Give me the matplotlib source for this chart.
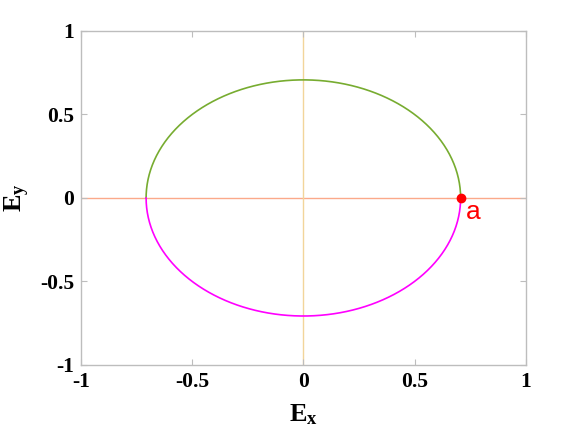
import numpy as np
import matplotlib
matplotlib.use("Agg")
import matplotlib.pyplot as plt

plt.rcParams["mathtext.fontset"] = "custom"
plt.rcParams["mathtext.rm"] = "Liberation Serif"
plt.rcParams["mathtext.bf"] = "Liberation Serif:bold"
plt.rcParams["mathtext.it"] = "Liberation Serif:italic"

# Polarization ellipse parameters
ex_amplitude = 0.707
ey_amplitude = 0.707
phase_upper = np.linspace(0, np.pi, 300)
phase_lower = np.linspace(np.pi, 2 * np.pi, 300)
point_a = (0.707, 0.0)
point_label = "a"
xticks = [-1, -0.5, 0, 0.5, 1]
yticks = [-1, -0.5, 0, 0.5, 1]
xtick_labels = ["-1", "-0.5", "0", "0.5", "1"]
ytick_labels = ["-1", "-0.5", "0", "0.5", "1"]

fig = plt.figure(figsize=(5.74, 4.36), dpi=100)
ax = fig.add_axes([0.141, 0.163, 0.775, 0.766])

ax.axhline(0, color="#FBA98A", lw=1.0, zorder=1)
ax.axvline(0, color="#F2D59A", lw=1.0, zorder=1)

ax.plot(ex_amplitude * np.cos(phase_upper), ey_amplitude * np.sin(phase_upper),
        color="#77AC30", lw=1.2, zorder=2)
ax.plot(ex_amplitude * np.cos(phase_lower), ey_amplitude * np.sin(phase_lower),
        color="#FF00FF", lw=1.2, zorder=2)
ax.plot([point_a[0]], [point_a[1]], "o", color="red", ms=6, zorder=3)
ax.text(point_a[0] + 0.022, point_a[1] - 0.01, point_label, color="red",
        fontsize=19, family="Liberation Sans", ha="left", va="top")

ax.set_xlim(-1, 1)
ax.set_ylim(-1, 1)
ax.set_xticks(xticks)
ax.set_xticklabels(xtick_labels)
ax.set_yticks(yticks)
ax.set_yticklabels(ytick_labels)

for s in ax.spines.values():
    s.set_color("#BDBDBD")
    s.set_linewidth(1.0)
ax.tick_params(direction="in", length=4, color="#BDBDBD", top=True, right=True,
               labelsize=15.5, pad=5)
for lab in ax.get_xticklabels() + ax.get_yticklabels():
    lab.set_fontfamily("Liberation Serif")
    lab.set_fontweight("bold")

ax.set_xlabel(r"$\mathbf{E}_{\mathbf{x}}$", fontsize=19, labelpad=7)
ax.set_ylabel(r"$\mathbf{E}_{\mathbf{y}}$", fontsize=19, labelpad=6)

fig.savefig("out.png", dpi=100)
